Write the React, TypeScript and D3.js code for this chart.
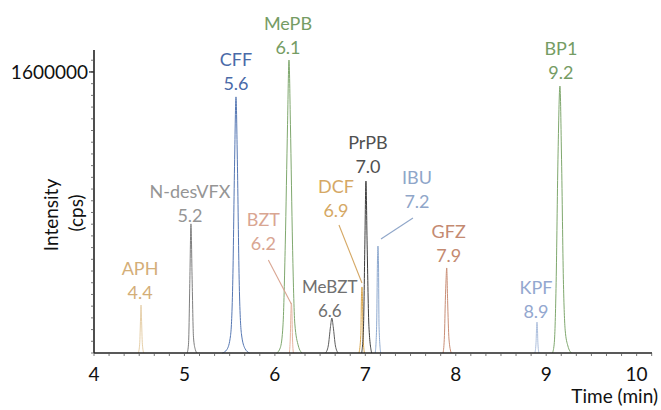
import React from "react";
import * as d3 from "d3";

// ---- data ----
const compounds = ["APH", "N-desVFX", "CFF", "MePB", "BZT", "MeBZT", "DCF", "PrPB", "IBU", "GFZ", "KPF", "BP1"];
const retentionLabels = ["4.4", "5.2", "5.6", "6.1", "6.2", "6.6", "6.9", "7.0", "7.2", "7.9", "8.9", "9.2"];

// [time (min), intensity (cps)]
const APH = [[4.49, 0], [4.505, 50000], [4.515, 200000], [4.52, 273000], [4.525, 200000], [4.535, 50000], [4.55, 0]];
const NDESVFX = [[5.03, 0], [5.045, 50000], [5.06, 420000], [5.072, 735000], [5.085, 420000], [5.1, 90000], [5.12, 20000], [5.14, 0]];
const CFF = [[5.42, 0], [5.47, 20000], [5.51, 100000], [5.535, 420000], [5.555, 1100000], [5.57, 1458000], [5.585, 1100000], [5.605, 420000], [5.63, 110000], [5.67, 25000], [5.72, 0]];
const MEPB = [[6.02, 0], [6.06, 30000], [6.09, 160000], [6.115, 620000], [6.14, 1300000], [6.156, 1668000], [6.172, 1300000], [6.195, 620000], [6.22, 170000], [6.26, 40000], [6.3, 0]];
const BZT = [[6.16, 0], [6.17, 80000], [6.178, 240000], [6.182, 285000], [6.188, 240000], [6.195, 80000], [6.205, 0]];
const MEBZT = [[6.56, 0], [6.59, 40000], [6.615, 150000], [6.63, 199000], [6.645, 150000], [6.67, 40000], [6.7, 0]];
const DCF = [[6.93, 0], [6.95, 100000], [6.958, 330000], [6.963, 376000], [6.968, 330000], [6.975, 100000], [6.99, 0]];
const PRPB = [[6.96, 0], [6.98, 150000], [6.995, 620000], [7.007, 979000], [7.02, 620000], [7.04, 150000], [7.07, 0]];
const IBU = [[7.11, 0], [7.125, 150000], [7.135, 540000], [7.14, 609000], [7.145, 540000], [7.152, 150000], [7.17, 0]];
const GFZ = [[7.86, 0], [7.875, 100000], [7.885, 300000], [7.893, 420000], [7.9, 484000], [7.91, 300000], [7.925, 80000], [7.95, 0]];
const KPF = [[8.875, 0], [8.888, 60000], [8.895, 160000], [8.898, 176000], [8.902, 160000], [8.908, 60000], [8.92, 0]];
const BP1 = [[9.07, 0], [9.09, 60000], [9.11, 400000], [9.13, 1100000], [9.152, 1520000], [9.17, 1100000], [9.19, 420000], [9.21, 130000], [9.24, 40000], [9.28, 0]];

const peaks = [APH, NDESVFX, CFF, MEPB, BZT, MEBZT, DCF, PRPB, IBU, GFZ, KPF, BP1];

const xTicks = [4, 5, 6, 7, 8, 9, 10];
const yTicks = [1600000];

// ---- styles / layout ----
const lineColors = ["#e6cfa8", "#7e7e7e", "#5577b3", "#7fa86e", "#e6b4a0", "#5c5c5c", "#d9a64c", "#3c3c3c", "#8ea9cf", "#c98e76", "#adbfdd", "#7fa86e"];
const textColors = ["#d4ae78", "#959595", "#4a6aa8", "#759c64", "#d9a692", "#707070", "#d5a865", "#505050", "#8fa6c9", "#c48a71", "#93a7cf", "#759c64"];
const fontSizes = [18, 18, 18, 18, 18, 17, 18, 18, 18, 18, 18, 18];
// label offsets (px) of second-line baseline relative to peak top
const labelOffsets = [[-1, -6], [-1, -2], [0, -7], [-1, -6], [-28, -53], [-2, -1], [-26, -70], [2, -8], [39, -38], [2, -6], [-1, -4], [1, -7]];
// leader lines relative to peak top: [x1,y1,x2,y2]
const leaders: (number[] | null)[] = [null, null, null, null, [-23, -43, 0, 1], null, [-23, -62, 0, -4], null, [35, -28, 3, -7], null, null, null];

const W = 661, H = 410;
const x = d3.scaleLinear().domain([4, 10.17]).range([94, 652]);
const y = d3.scaleLinear().domain([0, 1725000]).range([353, 50]);

const line = d3.line<number[]>().x(d => x(d[0])).y(d => y(d[1])).curve(d3.curveMonotoneX);

const FONT = "Lato, 'Open Sans', sans-serif";

export default function App() {
  const minorX = d3.range(0, 38).map(i => 4 + i / 6).filter(v => v <= 10.17);
  const minorY = d3.range(0, 26).map(i => i * 1600000 / 24).filter(v => v <= 1725000);
  return (
    <svg width={W} height={H} style={{ position: "absolute", left: 0, top: 0, background: "#fff" }} fontFamily={FONT}>
      {/* peaks */}
      {peaks.map((p, i) => (
        <path key={i} d={line(p as number[][]) || ""} fill="none" stroke={lineColors[i]} strokeWidth={1} />
      ))}
      {/* axes */}
      <line x1={x(4)} x2={x(10.17)} y1={y(0)} y2={y(0)} stroke="#222" strokeWidth={1.6} />
      <line x1={x(4)} x2={x(4)} y1={y(0)} y2={y(1725000)} stroke="#222" strokeWidth={1.6} />
      {minorX.map((v, i) => (
        <line key={"mx" + i} x1={x(v)} x2={x(v)} y1={y(0)} y2={y(0) + 3} stroke="#555" strokeWidth={0.8} />
      ))}
      {minorY.map((v, i) => (
        <line key={"my" + i} x1={x(4) - 3} x2={x(4)} y1={y(v)} y2={y(v)} stroke="#555" strokeWidth={0.8} />
      ))}
      {xTicks.map(t => (
        <text key={"xt" + t} x={x(t)} y={381} textAnchor="middle" fontSize={19} fill="#111">{t}</text>
      ))}
      {yTicks.map(t => (
        <g key={"yt" + t}>
          <line x1={x(4) - 5} x2={x(4)} y1={y(t)} y2={y(t)} stroke="#222" strokeWidth={1.2} />
          <text x={88} y={y(t) + 7} textAnchor="end" fontSize={19} fill="#111">{t}</text>
        </g>
      ))}
      <text transform="translate(58,215) rotate(-90)" textAnchor="middle" fontSize={19} fill="#111">Intensity</text>
      <text transform="translate(83,213) rotate(-90)" textAnchor="middle" fontSize={19} fill="#111">(cps)</text>
      <text x={658} y={403} textAnchor="end" fontSize={19} fill="#111">Time (min)</text>
      {/* labels */}
      {peaks.map((p, i) => {
        const top = p.reduce((a, b) => (b[1] > a[1] ? b : a));
        const px = x(top[0]);
        const py = y(top[1]);
        const [dx, dy] = labelOffsets[i];
        const ld = leaders[i];
        return (
          <g key={"lb" + i}>
            <text x={px + dx} y={py + dy - 24} textAnchor="middle" fontSize={fontSizes[i]} fill={textColors[i]}>{compounds[i]}</text>
            <text x={px + dx} y={py + dy} textAnchor="middle" fontSize={fontSizes[i]} fill={textColors[i]}>{retentionLabels[i]}</text>
            {ld && <line x1={px + ld[0]} y1={py + ld[1]} x2={px + ld[2]} y2={py + ld[3]} stroke={textColors[i]} strokeWidth={1.1} />}
          </g>
        );
      })}
    </svg>
  );
}
